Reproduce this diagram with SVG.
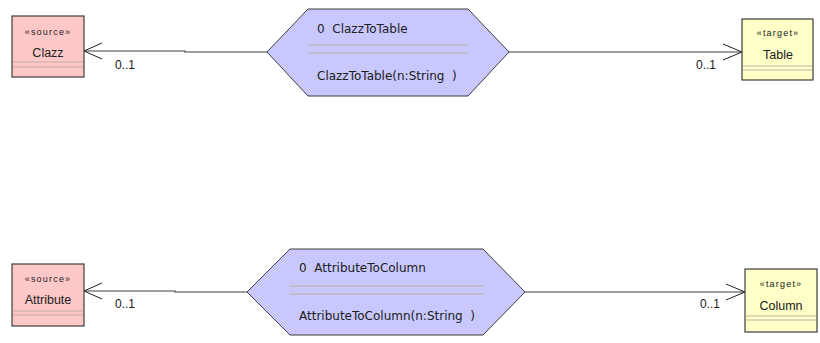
<svg xmlns="http://www.w3.org/2000/svg" width="820" height="343" viewBox="0 0 820 343">
  <style>
    .box { stroke: #3c3c3c; stroke-width: 1.2; }
    .src { fill: #ffc8c8; }
    .tgt { fill: #ffffc8; }
    .sep { stroke: #c0b0a0; stroke-width: 1; }
    .hex { fill: #c8c8ff; stroke: #3c3c3c; stroke-width: 1; }
    .hsep { stroke: #b8b098; stroke-width: 1; }
    .stereo { font-family: "Liberation Sans", Arial, sans-serif; font-size: 9px; letter-spacing: 1.2px; fill: #202020; text-anchor: middle; }
    .name { font-family: "Liberation Sans", Arial, sans-serif; font-size: 12.5px; fill: #202020; text-anchor: middle; }
    .rule { font-family: "DejaVu Sans", Verdana, sans-serif; font-size: 12px; fill: #202020; white-space: pre; }
    .mult { font-family: "Liberation Sans", Arial, sans-serif; font-size: 12px; fill: #202020; }
    .conn { fill: none; stroke: #404040; stroke-width: 1.2; }
    .head { fill: none; stroke: #202020; stroke-width: 1; }
  </style>

  <!-- associations between rules and their source/target classes -->
  <g id="connectors">
    <polyline class="conn" points="267,52 185,52 185,51 84,51"/>
    <polyline class="head" points="102,43 84,51 102,59"/>
    <text class="mult" x="115" y="69">0..1</text>

    <line class="conn" x1="509" y1="52" x2="742" y2="52"/>
    <polyline class="head" points="723,44 742,52 723,60"/>
    <text class="mult" x="696" y="69">0..1</text>

    <polyline class="conn" points="247,292 175,292 175,291 84,291"/>
    <polyline class="head" points="102,283 84,291 102,299"/>
    <text class="mult" x="115" y="308">0..1</text>

    <line class="conn" x1="525" y1="292" x2="745" y2="292"/>
    <polyline class="head" points="726,284 745,292 726,300"/>
    <text class="mult" x="700" y="308">0..1</text>
  </g>

  <g id="clazz">
    <rect class="box src" x="12" y="16" width="72" height="61"/>
    <text class="stereo" x="48" y="35">«source»</text>
    <text class="name" x="48" y="57">Clazz</text>
    <line class="sep" x1="13" y1="62" x2="83" y2="62"/>
    <line class="sep" x1="13" y1="67" x2="83" y2="67"/>
  </g>

  <g id="clazzToTable">
    <polygon class="hex" points="267,52 308,9 468,9 509,52 468,96 308,96"/>
    <text class="rule" x="317" y="33" xml:space="preserve">0  ClazzToTable</text>
    <line class="hsep" x1="308" y1="45" x2="468" y2="45"/>
    <line class="hsep" x1="308" y1="53" x2="468" y2="53"/>
    <text class="rule" x="317" y="80" xml:space="preserve">ClazzToTable(n:String  )</text>
  </g>

  <g id="table">
    <rect class="box tgt" x="742" y="19" width="71" height="61"/>
    <text class="stereo" x="778" y="36">«target»</text>
    <text class="name" x="778" y="59">Table</text>
    <line class="sep" x1="743" y1="66" x2="812" y2="66"/>
    <line class="sep" x1="743" y1="70" x2="812" y2="70"/>
  </g>

  <g id="attribute">
    <rect class="box src" x="12" y="264" width="72" height="62"/>
    <text class="stereo" x="48" y="282">«source»</text>
    <text class="name" x="48" y="304">Attribute</text>
    <line class="sep" x1="13" y1="311" x2="83" y2="311"/>
    <line class="sep" x1="13" y1="315" x2="83" y2="315"/>
  </g>

  <g id="attributeToColumn">
    <polygon class="hex" points="247,292 290,249 483,249 525,292 483,335 290,335"/>
    <text class="rule" x="299" y="272" xml:space="preserve">0  AttributeToColumn</text>
    <line class="hsep" x1="290" y1="286" x2="483" y2="286"/>
    <line class="hsep" x1="290" y1="294" x2="483" y2="294"/>
    <text class="rule" x="299" y="320" xml:space="preserve">AttributeToColumn(n:String  )</text>
  </g>

  <g id="column">
    <rect class="box tgt" x="745" y="269" width="72" height="63"/>
    <text class="stereo" x="781" y="287">«target»</text>
    <text class="name" x="781" y="310">Column</text>
    <line class="sep" x1="746" y1="316" x2="816" y2="316"/>
    <line class="sep" x1="746" y1="320" x2="816" y2="320"/>
  </g>
</svg>
